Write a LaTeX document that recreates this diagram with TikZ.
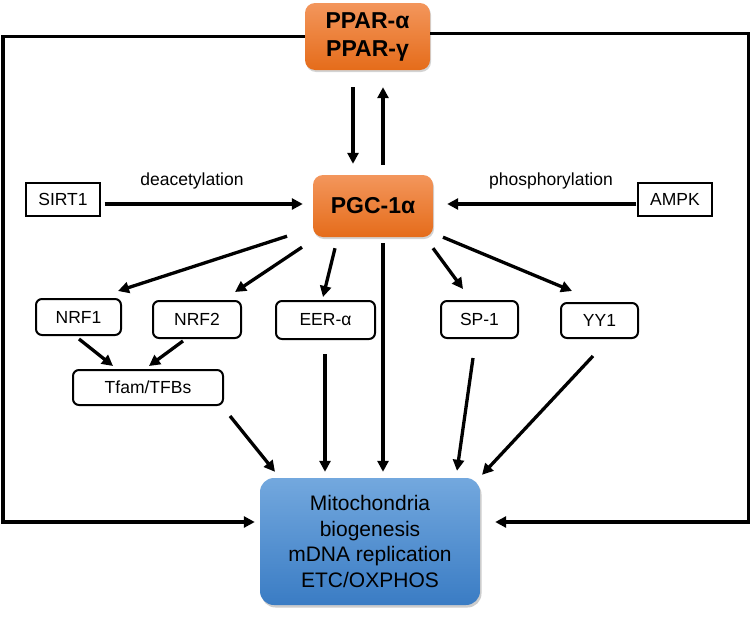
\documentclass[tikz,border=0pt]{standalone}
\usepackage{fontspec}
\setmainfont{Liberation Sans}
\usetikzlibrary{arrows.meta,calc,shadows}
\definecolor{orTop}{RGB}{243,150,92}
\definecolor{orBot}{RGB}{229,108,26}
\definecolor{blTop}{RGB}{115,168,222}
\definecolor{blBot}{RGB}{58,124,196}
\begin{document}
\begin{tikzpicture}[x=1pt,y=-1pt,
  orangebox/.style={rounded corners=10pt, top color=orTop, bottom color=orBot, draw=none,
    drop shadow={opacity=0.35,shadow xshift=1pt,shadow yshift=-2pt},
    font=\bfseries\fontsize{23}{28}\selectfont, align=center, inner sep=0pt},
  rbox/.style={rounded corners=6pt, draw=black, line width=2pt, fill=white,
    font=\fontsize{17.5}{21}\selectfont, inner sep=0pt},
  sbox/.style={draw=black, line width=1.2pt, fill=white,
    font=\fontsize{17.5}{21}\selectfont, inner sep=0pt},
  lbl/.style={font=\fontsize{17.5}{21}\selectfont, inner sep=0pt},
  arr/.style={line width=3.3pt, -{Triangle[length=11pt,width=11pt]}},
  fb/.style={line width=3.5pt, -{Triangle[length=11pt,width=11pt]}}
]
\useasboundingbox (0,0) rectangle (751,616);

% nodes
\node[orangebox, minimum width=125pt, minimum height=67pt] (ppar) at (367.5,36.5) {PPAR-α\\PPAR-γ};
\node[orangebox, minimum width=120pt, minimum height=62pt] (pgc) at (373,206) {PGC-1α};
\node[sbox, minimum width=74pt, minimum height=33pt] (sirt) at (63,199.5) {SIRT1};
\node[sbox, minimum width=74pt, minimum height=33pt] (ampk) at (675,199.5) {AMPK};
\node[lbl] (deac) at (192,181) {deacetylation};
\node[lbl] (phos) at (551,181) {phosphorylation};
\node[rbox, minimum width=85pt, minimum height=36pt] (nrf1) at (78.5,317) {NRF1};
\node[rbox, minimum width=88pt, minimum height=37pt] (nrf2) at (197,319.5) {NRF2};
\node[rbox, minimum width=99pt, minimum height=38pt] (eer) at (325.5,320) {EER-α};
\node[rbox, minimum width=77pt, minimum height=37pt] (sp1) at (479.5,319.5) {SP-1};
\node[rbox, minimum width=77pt, minimum height=35pt] (yy1) at (599.5,320.5) {YY1};
\node[rbox, minimum width=150pt, minimum height=35pt] (tfam) at (148,387.5) {Tfam/TFBs};
\node[rounded corners=14pt, top color=blTop, bottom color=blBot, draw=none,
  drop shadow={opacity=0.4,shadow xshift=1.5pt,shadow yshift=-2.5pt},
  minimum width=220pt, minimum height=127pt, align=center, inner sep=0pt,
  font=\fontsize{21}{25.5}\selectfont] (mito) at (370,541.5)
  {Mitochondria\\biogenesis\\mDNA replication\\ETC/OXPHOS};

% PPAR <-> PGC
\draw[arr] ($(ppar.south)+(-14.5,17)$) -- ($(pgc.north)+(-20,-11)$);
\draw[arr] ($(pgc.north)+(10,-10)$) -- ($(ppar.south)+(15.5,17)$);

% SIRT1, AMPK
\draw[arr] ($(sirt.east)+(4,4.5)$) -- ($(pgc.west)+(-10,-2)$);
\draw[arr] ($(ampk.west)+(-1,4.5)$) -- ($(pgc.east)+(14,-2)$);

% PGC to targets
\draw[arr] ($(pgc.south)+(-86,-1)$) -- ($(nrf1.north)+(39.5,-7)$);
\draw[arr] ($(pgc.south)+(-71,10)$) -- ($(nrf2.north)+(38,-8)$);
\draw[arr] ($(pgc.south)+(-38,11)$) -- ($(eer.north)+(-2.5,-3)$);
\draw[arr] ($(pgc.south)+(60,11)$) -- ($(sp1.north)+(-16.5,-11)$);
\draw[arr] ($(pgc.south)+(70,0)$) -- ($(yy1.north)+(-27.5,-11)$);
\draw[arr] ($(pgc.south)+(10,6)$) -- ($(mito.north)+(13,-6)$);

% NRF to Tfam
\draw[arr] ($(nrf1.south)+(0.5,3)$) -- ($(tfam.north)+(-35,-3)$);
\draw[arr] ($(nrf2.south)+(-14,2)$) -- ($(tfam.north)+(1,-3)$);

% to Mito
\draw[arr] ($(tfam.south)+(82,10)$) -- ($(mito.north)+(-95,-6)$);
\draw[arr] ($(eer.south)+(-0.5,14)$) -- ($(mito.north)+(-45,-6)$);
\draw[arr] ($(sp1.south)+(-6.5,19)$) -- ($(mito.north)+(87,-7)$);
\draw[arr] ($(yy1.south)+(-6.5,17)$) -- ($(mito.north)+(112,-3)$);

% feedback loops
\coordinate (lt) at (3,36.5);
\coordinate (lb) at (3,522);
\coordinate (rt) at (748.5,33.5);
\coordinate (rb) at (748.5,522);
\draw[fb, line join=miter] (ppar.west) -- (lt) -- (lb) -- ($(mito.west)+(-5,-19.5)$);
\draw[fb, line join=miter] ($(ppar.east)+(0,-3)$) -- (rt) -- (rb) -- ($(mito.east)+(15,-19.5)$);
\end{tikzpicture}
\end{document}
